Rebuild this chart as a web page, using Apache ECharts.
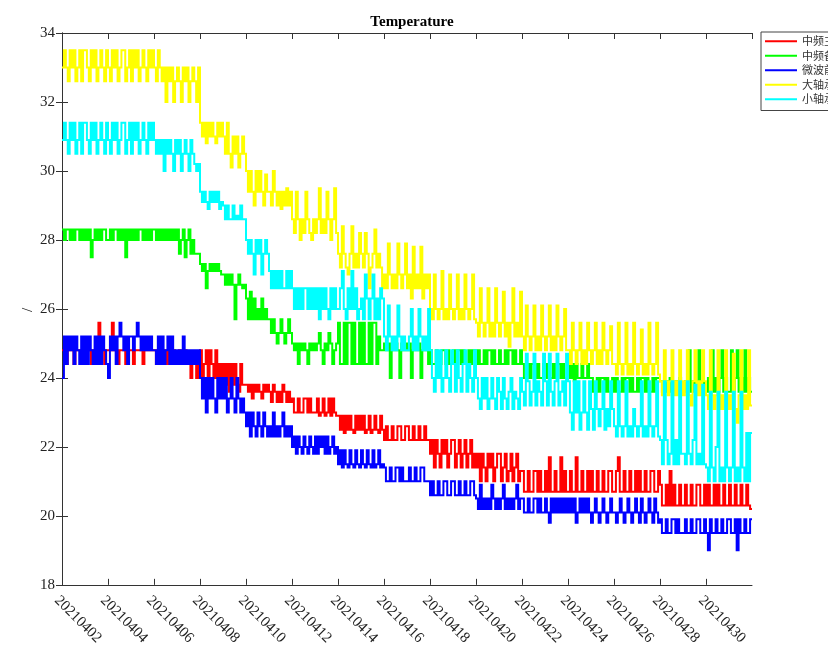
<!DOCTYPE html>
<html>
<head>
<meta charset="utf-8">
<script src="https://cdn.jsdelivr.net/npm/echarts@6/dist/echarts.min.js"></script>
<style>html,body{margin:0;padding:0;background:#fff;}#c{width:828px;height:648px;}</style>
</head>
<body>
<div id="c"></div>
<script>
// Tick labels (every 2 days, starting 2021-04-02)
var tickLabels = ['20210402','20210404','20210406','20210408','20210410','20210412','20210414','20210416','20210418','20210420','20210422','20210424','20210426','20210428','20210430'];
var seriesNames = ['中频主机温度','中频备机温度','微波前端温度','大轴承温度','小轴承温度'];
var samplesPerDay = 12;

// 中频主 (red), 12 readings per day, one row per day
var redVals = [
24.8,24.8,24.4,24.8,24.8,24.8,24.4,24.8,24.8,24.8,24.8,24.4,
24.8,24.8,24.8,24.4,24.8,24.8,24.8,25.6,24.8,24.8,24.4,24.8,
24.8,24.8,25.6,24.8,24.8,24.4,24.8,24.8,24.8,24.4,24.8,24.8,
24.8,24.4,24.8,24.8,24.8,24.8,24.4,24.8,24.8,24.8,24.8,24.8,
24.8,24.4,24.8,24.8,24.4,24.8,24.4,24.8,24.4,24.8,24.8,24.4,
24.4,24.8,24.4,24.4,24.8,24.4,24.4,24.0,24.4,24.4,24.0,24.4,
24.8,24.0,24.4,24.8,24.0,24.8,24.4,24.0,24.8,24.0,24.4,24.0,
24.4,23.8,24.4,23.6,24.4,23.8,24.4,23.8,23.6,24.4,23.8,23.8,
23.8,23.6,23.8,23.4,23.8,23.6,23.8,23.6,23.4,23.8,23.6,23.8,
23.6,23.3,23.8,23.6,23.3,23.6,23.3,23.8,23.6,23.3,23.6,23.3,
23.4,23.0,23.0,23.4,23.0,23.0,23.4,23.4,23.0,23.4,23.0,23.0,
23.0,23.4,22.9,23.0,23.4,22.9,23.0,23.4,22.9,23.4,23.0,22.9,
22.9,22.5,22.9,22.4,22.9,22.5,22.9,22.5,22.4,22.9,22.5,22.9,
22.5,22.9,22.4,22.5,22.9,22.4,22.5,22.9,22.5,22.4,22.9,22.5,
22.2,22.6,22.2,22.2,22.6,22.2,22.2,22.6,22.6,22.2,22.2,22.6,
22.6,22.2,22.2,22.6,22.2,22.2,22.6,22.2,22.2,22.6,22.2,22.2,
21.8,22.2,21.4,22.2,21.8,21.4,22.2,21.8,22.2,21.4,21.8,22.2,
22.2,21.4,21.8,22.2,21.4,21.8,22.2,21.4,21.8,22.2,21.4,21.8,
21.4,21.8,21.0,21.8,21.4,21.0,21.8,21.4,21.8,21.0,21.4,21.8,
21.8,21.0,21.4,21.8,21.0,21.3,21.8,21.0,21.4,21.8,21.0,21.3,
21.3,20.7,20.7,21.3,20.7,20.7,21.3,21.3,20.7,21.3,20.7,20.7,
21.3,20.7,21.7,20.7,20.7,21.3,20.7,20.7,21.7,20.7,21.3,20.7,
20.7,21.3,20.7,20.7,21.7,20.7,20.7,21.3,20.7,20.7,21.3,20.7,
21.3,20.7,20.7,21.3,20.7,20.7,21.3,20.7,20.7,21.3,21.3,20.7,
20.7,21.3,21.7,20.7,20.7,21.3,20.7,20.7,21.3,20.7,20.7,21.3,
20.7,21.3,20.7,20.7,21.3,20.7,20.7,21.3,21.3,20.7,20.7,21.3,
20.9,20.3,20.3,20.9,20.3,21.3,20.3,20.9,20.3,20.3,20.9,20.3,
20.3,20.9,20.3,20.3,20.9,20.3,20.3,20.9,20.9,20.3,20.3,20.9,
20.3,20.9,20.3,20.3,20.9,20.3,20.9,20.3,20.3,20.9,20.3,20.3,
20.9,20.3,20.3,20.9,20.3,20.3,20.9,20.3,20.3,20.9,20.3,20.2
];
// 中频备 (green)
var greenVals = [
28.3,28.0,28.3,28.3,28.0,28.3,28.0,28.3,28.3,28.0,28.3,28.0,
28.3,28.0,28.3,27.5,28.0,28.3,28.0,28.3,28.0,28.3,28.3,28.0,
28.0,28.3,28.0,28.3,28.3,28.0,28.3,28.0,28.3,27.5,28.3,28.0,
28.3,28.0,28.3,28.0,28.3,28.3,28.0,28.3,28.0,28.3,28.0,28.3,
28.3,28.0,28.3,28.0,28.3,28.0,28.3,28.0,28.3,28.0,28.3,28.0,
28.3,27.6,28.0,28.3,27.5,28.0,28.3,27.6,28.0,27.6,27.6,27.6,
27.3,27.1,27.3,26.6,27.1,27.3,27.1,27.3,27.1,27.3,27.1,27.0,
27.0,26.7,27.0,26.7,27.0,26.7,25.7,26.7,27.0,26.7,26.6,26.7,
26.3,25.7,26.5,25.7,26.3,25.7,26.0,25.7,26.3,25.7,26.0,25.7,
25.7,25.3,25.7,25.3,25.0,25.3,25.7,25.3,25.0,25.3,25.7,25.3,
25.0,24.8,25.0,24.4,25.0,24.8,25.0,24.8,24.4,25.0,24.8,25.0,
24.8,25.0,25.3,24.8,24.4,25.0,24.8,25.3,25.0,24.4,24.8,25.0,
25.6,24.4,24.4,25.6,24.4,25.6,25.6,24.4,25.6,24.4,24.4,25.6,
24.4,25.6,24.4,24.4,25.6,24.4,25.6,25.6,24.4,25.2,24.8,24.8,
25.0,24.8,25.0,24.0,25.0,24.8,25.0,24.8,24.0,25.0,24.8,25.0,
24.8,25.0,24.0,24.8,25.0,24.8,25.0,24.0,24.8,25.0,24.8,24.4,
24.8,24.4,24.4,24.8,24.4,24.4,24.8,24.8,24.4,24.8,24.4,24.4,
24.8,24.4,24.8,24.8,24.4,24.8,24.4,24.4,24.8,24.4,24.8,24.8,
24.4,24.8,24.4,24.4,24.8,24.4,24.8,24.8,24.4,24.8,24.4,24.4,
24.8,24.4,24.4,24.8,24.4,24.8,24.8,24.4,24.8,24.4,24.4,24.8,
24.4,24.0,24.0,24.4,24.0,24.4,24.4,24.0,24.4,24.0,24.0,24.4,
24.0,24.4,24.0,24.0,24.4,24.0,24.4,24.4,24.0,24.4,24.0,24.0,
24.4,24.0,24.4,23.9,24.4,24.0,24.0,24.4,24.0,24.0,24.4,24.0,
24.0,23.6,23.6,24.0,23.6,24.0,24.0,23.6,24.0,23.6,23.6,24.0,
23.6,24.0,23.6,23.6,24.0,23.6,24.0,24.0,23.6,24.0,23.6,23.6,
24.0,23.6,24.0,24.0,23.6,24.0,23.6,23.6,24.0,23.6,24.0,24.0,
23.9,23.6,23.6,23.9,23.6,24.0,23.6,23.6,23.9,23.6,24.0,23.6,
23.6,23.9,23.6,24.8,23.6,23.9,23.6,23.9,24.8,23.6,23.9,23.6,
23.6,24.0,23.6,24.8,23.6,24.0,23.6,24.0,24.8,23.6,24.0,23.6,
23.6,24.8,23.6,24.0,24.8,23.6,24.0,23.6,24.8,23.6,24.0,23.6
];
// 微波前 (blue)
var blueVals = [
24.0,25.2,24.4,25.2,24.8,25.2,24.4,25.2,24.8,24.4,25.2,24.4,
25.2,24.4,25.2,24.8,24.4,25.2,24.4,25.2,24.4,25.2,24.8,24.4,
24.0,25.2,24.8,25.2,24.4,25.2,25.6,25.2,24.8,25.2,24.4,25.2,
25.2,24.8,25.2,25.6,25.2,24.8,25.2,24.8,25.2,24.8,25.2,24.8,
24.8,24.4,25.2,24.4,25.2,24.4,24.8,25.2,24.4,25.2,24.4,24.8,
24.4,24.8,24.4,25.2,24.4,24.8,24.4,24.8,24.4,24.8,24.4,24.8,
24.0,23.4,24.0,23.0,24.0,23.4,24.0,23.4,23.0,24.0,23.4,24.0,
23.4,24.0,23.0,23.4,24.0,23.4,23.0,24.0,23.4,23.0,23.4,23.0,
22.6,23.0,22.3,23.0,22.6,22.3,23.0,22.6,22.3,23.0,22.6,22.3,
22.6,22.3,23.0,22.3,22.6,22.3,22.6,23.0,22.3,22.6,22.3,22.6,
22.0,22.3,21.8,22.3,22.0,21.8,22.3,22.0,21.8,22.3,22.0,21.8,
22.3,21.8,22.3,22.0,22.3,21.8,22.3,21.8,22.0,22.3,21.8,22.0,
21.5,21.9,21.4,21.9,21.5,21.4,21.9,21.5,21.4,21.9,21.5,21.4,
21.9,21.5,21.4,21.9,21.5,21.4,21.9,21.4,21.5,21.9,21.4,21.5,
21.4,21.0,21.0,21.4,21.0,21.0,21.4,21.4,21.0,21.4,21.0,21.0,
21.0,21.4,21.0,21.0,21.4,21.0,21.0,21.4,21.4,21.0,21.0,21.0,
20.6,21.0,20.6,20.6,21.0,20.6,20.6,21.0,21.0,20.6,20.6,21.0,
21.0,20.6,20.6,21.0,20.6,20.6,21.0,20.6,20.6,21.0,21.0,20.6,
20.5,20.2,20.9,20.2,20.5,20.2,20.5,20.2,20.9,20.5,20.2,20.5,
20.2,20.5,20.9,20.2,20.5,20.2,20.5,20.2,20.5,20.9,20.2,20.5,
20.5,20.1,20.1,20.5,20.1,20.1,20.5,20.5,20.1,20.5,20.1,20.1,
20.5,20.1,19.8,20.5,20.1,20.5,20.1,20.5,20.1,20.5,20.1,20.5,
20.1,20.5,20.1,20.5,19.8,20.1,20.5,20.1,20.5,20.1,20.5,20.1,
19.8,20.1,20.5,20.1,19.8,20.1,20.5,20.1,19.8,20.1,20.5,20.1,
20.1,19.8,20.1,20.5,20.1,19.8,20.1,20.5,20.1,19.8,20.1,20.5,
20.1,19.8,20.5,20.1,19.8,20.1,20.5,20.1,19.8,20.5,20.1,19.8,
19.9,19.5,19.5,19.9,19.5,19.5,19.9,19.9,19.5,19.9,19.5,19.5,
19.5,19.9,19.5,19.5,19.9,19.5,19.5,19.9,19.9,19.5,19.5,19.9,
19.5,19.0,19.9,19.5,19.5,19.9,19.5,19.5,19.9,19.5,19.5,19.9,
19.9,19.5,19.5,19.9,19.0,19.9,19.5,19.5,19.9,19.5,19.5,19.9
];
// 大轴 (yellow)
var yellowVals = [
33.0,33.5,33.0,32.6,33.5,33.0,33.5,32.6,33.0,33.5,32.6,33.5,
33.5,33.0,32.6,33.5,33.0,33.5,32.6,33.0,33.5,33.0,32.6,33.5,
33.0,32.6,33.5,33.0,33.5,32.6,33.0,33.5,33.5,32.6,33.0,33.5,
32.6,33.5,33.0,33.5,32.6,33.0,33.5,33.0,32.6,33.5,33.0,33.5,
33.0,32.6,33.5,33.0,32.6,33.0,32.0,33.0,32.6,33.0,32.0,32.6,
33.0,32.6,32.0,33.0,32.6,33.0,32.0,32.6,33.0,32.6,32.0,33.0,
31.4,31.0,31.4,30.8,31.4,31.0,31.4,31.0,30.8,31.4,31.0,31.4,
31.0,30.5,31.4,30.5,30.1,31.0,30.5,31.0,30.1,30.5,31.0,30.5,
30.0,29.4,30.0,29.4,29.0,30.0,29.4,30.0,29.4,29.0,29.9,29.4,
29.4,29.0,30.0,29.4,29.0,29.4,28.9,29.4,29.0,29.5,29.0,29.4,
28.6,28.2,29.4,28.6,28.0,28.6,28.2,29.4,28.6,28.2,28.0,28.6,
28.2,28.6,29.5,28.2,28.6,28.2,29.4,28.6,28.0,28.6,29.5,28.2,
27.6,27.2,28.4,27.6,27.2,27.0,27.6,28.4,27.2,27.6,27.2,28.2,
27.6,27.2,28.2,27.6,26.6,27.2,27.6,28.3,27.2,27.6,27.2,26.6,
27.0,26.6,27.9,27.0,26.6,27.0,26.6,27.9,27.0,26.6,27.0,27.9,
26.6,27.0,26.3,27.8,26.6,27.0,26.6,27.8,26.3,27.0,26.6,27.0,
26.0,25.7,27.0,26.0,25.7,26.0,27.1,25.7,26.0,25.7,27.0,26.0,
25.7,26.0,27.0,25.7,26.0,25.7,27.0,26.0,25.7,26.0,27.0,25.7,
25.6,25.2,26.6,25.6,25.2,25.6,26.6,25.2,25.6,25.2,26.6,25.6,
25.2,25.6,26.5,25.2,25.6,24.9,25.6,26.6,25.2,25.6,25.2,26.5,
25.2,24.8,26.1,25.2,24.8,25.2,26.1,24.8,25.2,24.8,26.1,25.2,
24.8,25.2,26.1,24.8,25.2,24.8,26.1,25.2,24.8,25.2,26.0,24.8,
24.8,24.4,25.6,24.8,24.4,24.8,25.6,24.4,24.8,24.4,25.6,24.8,
24.4,24.8,25.6,24.4,24.8,24.4,25.6,24.8,24.4,24.8,25.5,24.4,
24.4,24.1,25.6,24.4,24.1,24.4,25.6,24.1,24.4,24.1,25.6,24.4,
24.1,24.4,25.4,24.1,24.4,24.1,25.6,24.4,24.1,24.4,25.6,24.1,
23.9,23.5,24.8,23.9,23.5,23.9,24.8,23.5,23.9,23.5,24.8,23.9,
23.5,23.9,24.8,23.5,23.2,23.9,24.8,23.5,23.9,23.5,24.8,23.9,
23.5,23.1,24.8,23.5,23.1,23.5,24.8,23.1,23.5,23.1,24.8,23.5,
23.1,23.5,24.7,23.1,22.7,23.5,24.8,23.1,23.5,23.1,24.8,23.2
];
// 小轴 (cyan)
var cyanVals = [
30.9,31.4,30.9,30.5,31.4,30.9,31.4,30.5,30.9,31.4,30.5,31.4,
31.4,30.9,30.5,31.4,30.9,31.4,30.5,30.9,31.4,30.9,30.5,31.4,
30.9,30.5,31.4,30.9,31.4,30.5,30.9,31.4,31.4,30.5,30.9,31.4,
30.5,31.4,30.9,31.4,30.5,30.9,31.4,30.9,30.5,31.4,30.9,31.4,
30.9,30.5,30.9,30.5,30.9,30.0,30.9,30.5,30.9,30.5,30.0,30.9,
30.5,30.9,30.0,30.5,30.9,30.5,30.0,30.9,30.5,30.2,30.0,30.2,
29.4,29.1,29.4,29.1,28.9,29.4,29.1,29.4,29.1,29.4,28.9,29.1,
29.0,28.6,29.0,28.6,28.6,29.0,28.6,28.7,28.6,29.0,28.6,28.6,
28.0,27.6,28.0,27.6,27.0,28.0,27.6,28.0,27.0,27.6,28.0,27.6,
27.1,26.6,27.1,26.6,27.1,26.6,27.1,26.6,26.6,27.1,26.6,27.1,
26.6,26.0,26.6,26.0,26.6,26.0,26.6,26.6,26.0,26.6,26.0,26.6,
26.0,26.6,25.7,26.6,26.0,26.6,26.0,25.7,26.6,26.0,26.6,26.0,
26.0,26.6,27.1,26.0,25.7,26.6,26.0,27.1,26.0,26.6,25.7,26.0,
26.3,25.7,27.0,26.3,25.7,26.3,27.0,25.7,26.3,25.7,26.6,26.3,
25.2,24.8,26.1,25.2,24.8,25.2,24.8,26.1,25.2,24.8,25.2,24.8,
24.8,25.2,26.0,24.8,25.2,24.8,26.0,25.2,24.8,25.2,24.8,26.0,
24.8,24.0,23.6,24.8,24.0,24.8,23.6,24.0,24.8,24.0,23.6,24.8,
24.4,23.6,24.8,24.0,23.6,24.4,24.8,23.6,24.4,24.0,23.6,24.8,
24.0,23.4,23.1,24.0,23.4,24.0,23.1,23.4,24.0,23.4,23.1,24.0,
23.6,23.1,24.0,23.4,23.1,23.6,24.0,23.1,23.6,23.4,23.1,24.0,
23.6,23.2,24.7,23.9,23.2,23.6,24.7,23.2,23.9,23.6,23.2,24.7,
23.9,23.2,24.7,23.6,23.2,23.9,24.7,23.2,23.6,23.9,23.2,24.7,
23.9,23.0,22.5,23.9,23.0,23.9,22.5,23.0,23.9,23.0,22.5,23.9,
23.1,22.5,23.9,23.1,22.6,23.1,23.9,22.5,23.1,22.6,23.9,23.1,
22.6,22.3,23.9,22.6,22.3,22.6,23.9,22.3,22.6,22.3,23.1,22.6,
22.3,22.6,23.9,22.3,22.6,22.3,23.9,22.6,22.3,22.6,23.9,22.3,
22.2,21.5,23.9,22.2,21.5,21.8,23.9,21.5,22.2,21.5,23.9,21.8,
21.8,21.5,23.9,21.8,21.5,22.2,23.8,21.5,21.8,21.5,23.8,21.5,
21.4,21.0,23.6,21.4,21.0,22.0,23.6,21.0,21.4,21.0,23.6,21.4,
21.0,21.4,23.6,21.0,21.4,21.0,23.6,21.4,21.0,22.4,21.0,22.4
];
var colors = ['#ff0000','#00ff00','#0000ff','#ffff00','#00ffff'];
var allVals = [redVals, greenVals, blueVals, yellowVals, cyanVals];

var serif = '"Liberation Serif","Times New Roman",serif';
var chart = echarts.init(document.getElementById('c'), null, {renderer: 'canvas'});

function toPairs(vals) {
  return vals.map(function (v, i) { return [(i + 0.5) / samplesPerDay, v]; });
}

// Step polyline drawn through the axis scales (api.coord), one path per series.
function makeRenderItem(color) {
  var half = 0.5 / samplesPerDay;
  return function (params, api) {
    if (params.dataIndexInside !== 0) return null;
    var n = params.dataInsideLength;
    var pts = [];
    for (var j = 0; j < n; j++) {
      var t = api.value(0, j), v = api.value(1, j);
      pts.push(api.coord([t - half, v]));
      pts.push(api.coord([t + half, v]));
    }
    return {
      type: 'polyline',
      shape: {points: pts},
      style: {stroke: color, lineWidth: 2, fill: null, lineJoin: 'miter'},
      silent: true
    };
  };
}

var series = allVals.map(function (vals, k) {
  return {
    name: seriesNames[k],
    type: 'custom',
    renderItem: makeRenderItem(colors[k]),
    encode: {x: 0, y: 1},
    data: toPairs(vals),
    itemStyle: {color: colors[k]},
    clip: true
  };
});

var xLabelFmt = function (v) {
  var idx = Math.round(v / 2);
  return (Math.abs(v / 2 - idx) < 1e-6 && idx < tickLabels.length) ? tickLabels[idx] : '';
};

chart.setOption({
  animation: false,
  backgroundColor: '#fff',
  title: {
    text: 'Temperature', left: 407, top: 10, textAlign: 'center',
    textStyle: {fontFamily: serif, fontWeight: 'bold', fontSize: 15, color: '#000'}
  },
  legend: {
    orient: 'vertical', left: 761, top: 32,
    icon: 'rect', itemWidth: 32, itemHeight: 2, itemGap: 0,
    padding: [2, 6, 4, 4],
    borderColor: '#444', borderWidth: 1, backgroundColor: '#fff',
    textStyle: {fontFamily: '"Noto Sans CJK SC", serif', fontSize: 11, lineHeight: 14.5, color: '#333'},
    data: seriesNames
  },
  graphic: [{
    type: 'text', x: 28, y: 310, rotation: Math.PI / 2,
    style: {text: '/', fontFamily: serif, fontSize: 15, fill: '#222', align: 'center', verticalAlign: 'middle'}
  }],
  grid: {left: 62, right: 76, top: 33, bottom: 58, containLabel: false},
  xAxis: [{
    type: 'value', min: 0, max: 30, interval: 2, position: 'bottom',
    axisLine: {show: true, lineStyle: {color: '#333', width: 1}},
    axisTick: {show: true, inside: true, length: 6, lineStyle: {color: '#333'}},
    axisLabel: {show: true, rotate: -45, showMaxLabel: false, formatter: xLabelFmt,
      verticalAlign: 'top', align: 'left',
      fontFamily: serif, fontSize: 15, color: '#222', margin: 8},
    splitLine: {show: false}
  }, {
    type: 'value', min: 0, max: 30, interval: 2, position: 'top',
    axisLine: {show: true, lineStyle: {color: '#333', width: 1}},
    axisTick: {show: true, inside: true, length: 6, lineStyle: {color: '#333'}},
    axisLabel: {show: false}, splitLine: {show: false}
  }],
  yAxis: [{
    type: 'value', min: 18, max: 34, interval: 2, position: 'left',
    axisLine: {show: true, lineStyle: {color: '#333', width: 1}},
    axisTick: {show: true, inside: true, length: 6, lineStyle: {color: '#333'}},
    axisLabel: {fontFamily: serif, fontSize: 15, color: '#222', margin: 7},
    splitLine: {show: false}
  }, {
    type: 'value', min: 18, max: 34, interval: 2, position: 'right',
    axisLine: {show: true, lineStyle: {color: '#333', width: 1}},
    axisTick: {show: true, inside: true, length: 6, lineStyle: {color: '#333'}},
    axisLabel: {show: false}, splitLine: {show: false}
  }],
  series: series
});
</script>
</body>
</html>
